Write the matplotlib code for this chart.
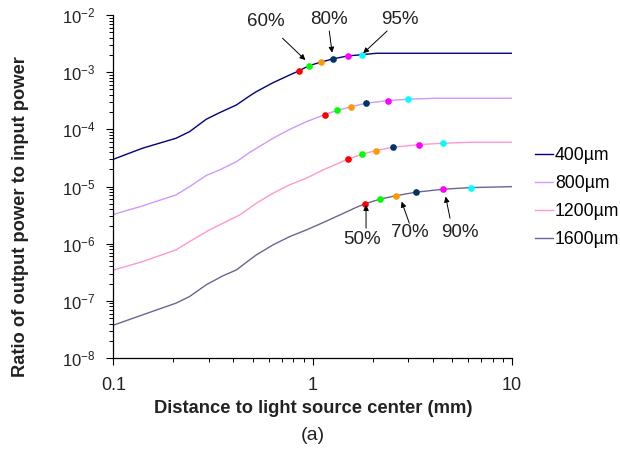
import matplotlib
matplotlib.use('Agg')
import matplotlib.pyplot as plt
from matplotlib.ticker import LogLocator, NullFormatter, FixedLocator, FixedFormatter

plt.rcParams['font.family'] = ['Liberation Sans', 'DejaVu Sans']
plt.rcParams['mathtext.default'] = 'regular'

# --- Daten ---
labels = ['400µm', '800µm', '1200µm', '1600µm']
line_colors = ['#000080', '#cc99ff', '#ff99cc', '#666699']

x_400 = [0.101, 0.140, 0.206, 0.241, 0.292, 0.341, 0.414, 0.482, 0.521, 0.632, 0.766,
         0.851, 0.957, 1.094, 1.256, 1.494, 1.758, 2.09, 10]
y_400 = [3.04e-5, 4.68e-5, 6.98e-5, 9.12e-5, 1.50e-4, 1.96e-4, 2.67e-4, 3.84e-4, 4.56e-4,
         6.55e-4, 8.93e-4, 1.05e-3, 1.30e-3, 1.49e-3, 1.70e-3, 1.92e-3, 2.02e-3, 2.14e-3, 2.14e-3]

x_800 = [0.101, 0.140, 0.206, 0.241, 0.292, 0.341, 0.414, 0.482, 0.632, 0.766, 0.929,
         1.148, 1.330, 1.552, 1.846, 2.388, 2.99, 4.19, 10]
y_800 = [3.28e-6, 4.58e-6, 7.13e-6, 9.95e-6, 1.56e-5, 1.95e-5, 2.72e-5, 3.94e-5, 6.98e-5,
         1.00e-4, 1.36e-4, 1.81e-4, 2.16e-4, 2.47e-4, 2.86e-4, 3.18e-4, 3.36e-4, 3.50e-4, 3.50e-4]

x_1200 = [0.101, 0.140, 0.206, 0.241, 0.303, 0.383, 0.430, 0.521, 0.632, 0.766, 0.929,
          1.127, 1.494, 1.77, 2.07, 2.53, 3.42, 4.49, 6.15, 10]
y_1200 = [3.48e-7, 4.86e-7, 7.80e-7, 1.09e-6, 1.74e-6, 2.61e-6, 3.18e-6, 5.10e-6, 7.64e-6,
          1.07e-5, 1.40e-5, 1.95e-5, 3.00e-5, 3.67e-5, 4.25e-5, 4.86e-5, 5.41e-5, 5.71e-5,
          5.94e-5, 5.94e-5]

x_1600 = [0.101, 0.140, 0.206, 0.241, 0.292, 0.354, 0.414, 0.482, 0.521, 0.632, 0.766,
          0.929, 1.127, 1.367, 1.66, 1.824, 2.17, 2.63, 3.28, 4.52, 6.2, 10]
y_1600 = [3.80e-8, 5.69e-8, 9.12e-8, 1.19e-7, 1.91e-7, 2.74e-7, 3.48e-7, 5.21e-7, 6.37e-7,
          9.53e-7, 1.33e-6, 1.74e-6, 2.34e-6, 3.18e-6, 4.35e-6, 4.97e-6, 6.00e-6, 6.93e-6,
          7.94e-6, 8.97e-6, 9.57e-6, 9.95e-6]

# Punkte 50 % ... 95 %
dot_colors = ['#ff0000', '#00ff00', '#ff9900', '#003366', '#ff00ff', '#00ffff']
dots_x_400 = [0.851, 0.957, 1.094, 1.256, 1.494, 1.758]
dots_y_400 = [1.05e-3, 1.30e-3, 1.49e-3, 1.70e-3, 1.92e-3, 2.02e-3]
dots_x_800 = [1.148, 1.330, 1.552, 1.846, 2.388, 2.99]
dots_y_800 = [1.81e-4, 2.16e-4, 2.47e-4, 2.86e-4, 3.18e-4, 3.36e-4]
dots_x_1200 = [1.494, 1.77, 2.07, 2.53, 3.42, 4.49]
dots_y_1200 = [3.00e-5, 3.67e-5, 4.25e-5, 4.86e-5, 5.41e-5, 5.71e-5]
dots_x_1600 = [1.824, 2.17, 2.63, 3.28, 4.52, 6.2]
dots_y_1600 = [4.97e-6, 6.00e-6, 6.93e-6, 7.94e-6, 8.97e-6, 9.57e-6]

# Beschriftungen: Text, Textposition, Pfeilanfang, Pfeilspitze
ann_text = ['60%', '80%', '95%', '50%', '70%', '90%']
ann_text_xy = [(0.581, 7.55e-3), (1.20, 8.18e-3), (2.74, 8.18e-3),
               (1.76, 1.16e-6), (3.07, 1.56e-6), (5.48, 1.56e-6)]
ann_tail_xy = [(0.705, 3.92e-3), (1.21, 5.25e-3), (2.36, 5.25e-3),
               (1.85, 1.87e-6), (3.05, 2.28e-6), (4.88, 2.79e-6)]
ann_tip_xy = [(0.918, 1.63e-3), (1.25, 2.19e-3), (1.79, 2.14e-3),
              (1.85, 4.76e-6), (2.79, 5.44e-6), (4.64, 6.65e-6)]

curves_x = [x_400, x_800, x_1200, x_1600]
curves_y = [y_400, y_800, y_1200, y_1600]
dots_x = [dots_x_400, dots_x_800, dots_x_1200, dots_x_1600]
dots_y = [dots_y_400, dots_y_800, dots_y_1200, dots_y_1600]

fig = plt.figure(figsize=(6.2, 4.5), dpi=100)
ax = fig.add_axes([0.183, 0.2044, 0.643, 0.7623])

handles = []
for cx, cy, col, lab in zip(curves_x, curves_y, line_colors, labels):
    h, = ax.plot(cx, cy, color=col, lw=1.0, label=lab, zorder=2)
    handles.append(h)

for dx, dy in zip(dots_x, dots_y):
    for px, py, dc in zip(dx, dy, dot_colors):
        ax.plot(px, py, 'o', color=dc, markersize=4.8, markeredgewidth=0, zorder=3)

for txt, txy, tail, tip in zip(ann_text, ann_text_xy, ann_tail_xy, ann_tip_xy):
    ax.text(txy[0], txy[1], txt, fontsize=13.5, ha='center', va='center', color='#222222')
    ax.annotate('', xy=tip, xytext=tail,
                arrowprops=dict(arrowstyle='-|>', color='black', lw=0.7, mutation_scale=8,
                                shrinkA=0, shrinkB=0))

ax.set_xscale('log')
ax.set_yscale('log')
ax.set_xlim(0.1, 10)
ax.set_ylim(1e-8, 1e-2)

ax.xaxis.set_major_locator(FixedLocator([0.1, 1, 10]))
ax.xaxis.set_major_formatter(FixedFormatter(['0.1', '1', '10']))
ax.xaxis.set_minor_locator(LogLocator(base=10, subs=range(2, 10)))
ax.xaxis.set_minor_formatter(NullFormatter())
ax.yaxis.set_major_locator(LogLocator(base=10, numticks=10))
ax.yaxis.set_minor_locator(LogLocator(base=10, subs=range(2, 10), numticks=10))
ax.yaxis.set_minor_formatter(NullFormatter())

for side in ['top', 'right']:
    ax.spines[side].set_visible(False)
for side in ['left', 'bottom']:
    ax.spines[side].set_linewidth(0.9)

ax.tick_params(which='major', direction='out', length=5, width=0.8, colors='black')
ax.tick_params(which='minor', direction='out', length=3, width=0.7)
ax.tick_params(axis='x', which='major', pad=9, labelsize=13)
ax.tick_params(axis='y', which='major', pad=8, labelsize=12)
for lbl in ax.get_xticklabels() + ax.get_yticklabels():
    lbl.set_color('#222222')

ax.set_xlabel('Distance to light source center (mm)', fontsize=13.2, fontweight='bold',
              color='#222222', va='baseline')
ax.xaxis.set_label_coords(0.5, -0.160)
ax.set_ylabel('Ratio of output power to input power', fontsize=13.2, fontweight='bold',
              color='#222222', va='center')
ax.yaxis.set_label_coords(-0.233, 0.411)

fig.text(313 / 620, 1 - 436 / 450, '(a)', fontsize=14, ha='center', va='center', color='#222222')

fig.legend(handles=handles, loc='upper left', bbox_to_anchor=(535 / 620, 1 - 147 / 450),
           frameon=False, fontsize=12.7, handlelength=1.0, handletextpad=0.12,
           labelspacing=0.62, borderpad=0, borderaxespad=0)

fig.savefig('out.png', dpi=100)
